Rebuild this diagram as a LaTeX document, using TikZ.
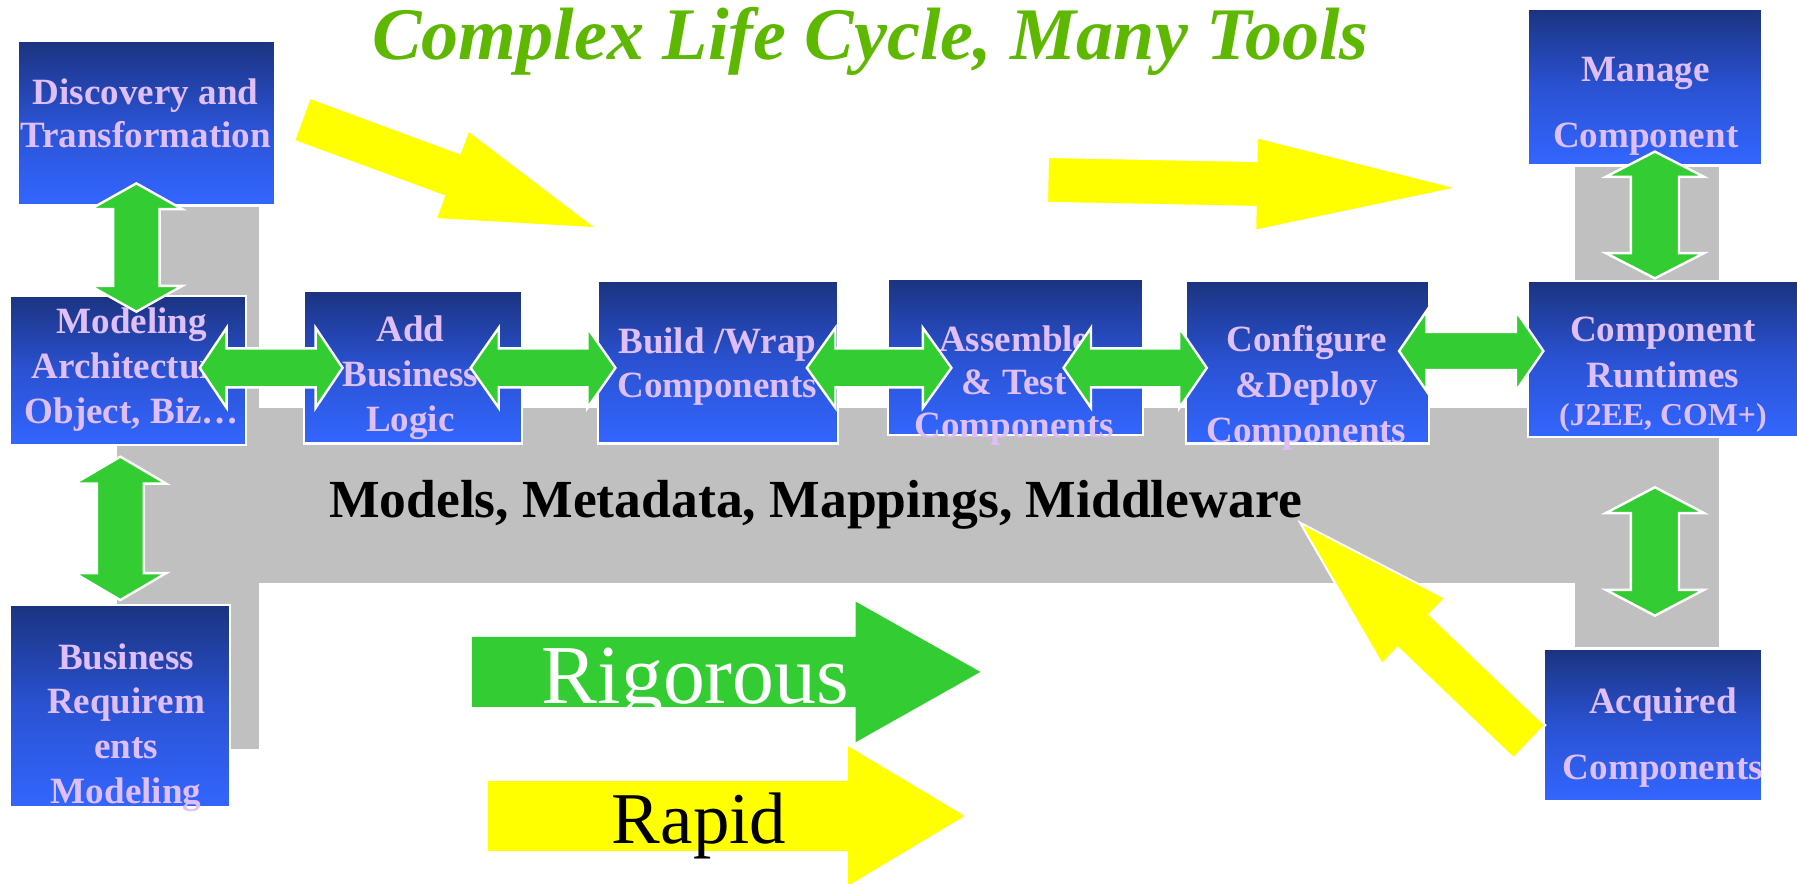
\documentclass[tikz,border=0pt]{standalone}
\usepackage{fontspec}
\setmainfont{Liberation Serif}
\usetikzlibrary{calc,fit}

\definecolor{navy}{RGB}{27,51,128}
\definecolor{midblue}{RGB}{42,82,210}
\definecolor{brightblue}{RGB}{51,102,255}
\definecolor{lavender}{RGB}{224,190,248}
\definecolor{arrowgreen}{RGB}{51,204,51}
\definecolor{arrowyellow}{RGB}{255,255,0}
\definecolor{panelgray}{RGB}{192,192,192}
\definecolor{titlegreen}{RGB}{94,184,0}

\tikzset{
  stage/.style={draw=white, line width=0.5pt, top color=navy, bottom color=brightblue,
    middle color=midblue, inner sep=0pt, rectangle},
  boxtext/.style={text=lavender, font=\fontsize{9.2}{11}\selectfont\bfseries, inner sep=0pt},
  linkarrow/.style={fill=arrowgreen, draw=white, line width=0.6pt, line join=miter},
  flowarrow/.style={fill=arrowyellow, draw=white, line width=0.5pt, line join=miter},
  bigarrow/.style={draw=none},
}

% stage box spanning two corners
\newcommand\stagebox[3]{\node[stage, fit={#2 #3}] (#1) {};}

% stacked label lines: name, x, first baseline, line spacing, lines
\newcommand\stagetext[5]{%
  \foreach \ltxt [count=\k from 0] in {#5} {
    \node[boxtext, anchor=base] (#1-\k) at (#2, {#3+\k*#4}) {\ltxt};
  }%
}

% double-headed block arrow between two tips:
% tip A, tip B, head length, head half width, shaft half width, style
\newcommand\dblblock[6]{%
  \coordinate (hA) at ($(#1)!#3*0.01cm!(#2)$);
  \coordinate (hB) at ($(#2)!#3*0.01cm!(#1)$);
  \draw[#6] (#1) -- ($(hA)!#4*0.01cm!90:(#2)$) -- ($(hA)!#5*0.01cm!90:(#2)$)
    -- ($(hB)!#5*0.01cm!-90:(#1)$) -- ($(hB)!#4*0.01cm!-90:(#1)$) -- (#2)
    -- ($(hB)!#4*0.01cm!90:(#1)$) -- ($(hB)!#5*0.01cm!90:(#1)$)
    -- ($(hA)!#5*0.01cm!-90:(#2)$) -- ($(hA)!#4*0.01cm!-90:(#2)$) -- cycle;
}

% single block arrow: tail, tip, head length, head half width, shaft half width, style
\newcommand\oneblock[6]{%
  \coordinate (hT) at ($(#2)!#3*0.01cm!(#1)$);
  \draw[#6] ($(#1)!#5*0.01cm!90:(#2)$) -- ($(hT)!#5*0.01cm!90:(#2)$)
    -- ($(hT)!#4*0.01cm!90:(#2)$) -- (#2) -- ($(hT)!#4*0.01cm!-90:(#2)$)
    -- ($(hT)!#5*0.01cm!-90:(#2)$) -- ($(#1)!#5*0.01cm!-90:(#2)$) -- cycle;
}

\begin{document}
\begin{tikzpicture}[x=0.01cm, y=-0.01cm]
\useasboundingbox (0,0) rectangle (1568,771);
\clip (0,0) rectangle (1568,771);

% shared repository panel
\fill[panelgray] (102,180.5) rectangle (226,654);
\fill[panelgray] (102,356) rectangle (1500,509);
\fill[panelgray] (1374,145.5) rectangle (1500,564.5);

% stage boxes
\stagebox{disc}{(16,36)}{(240,179)}
\stagebox{model}{(9,258)}{(215,388)}
\stagebox{addlogic}{(265,254)}{(455.5,387)}
\stagebox{build}{(521.6,245)}{(731,387)}
\stagebox{assem}{(775,243.5)}{(997,380)}
\stagebox{config}{(1035,245)}{(1246.5,387)}
\stagebox{runtime}{(1333,245)}{(1572,381)}
\stagebox{manage}{(1333,8)}{(1537.5,143.7)}
\stagebox{acquired}{(1347.3,566.3)}{(1537.5,698.7)}
\stagebox{bizreq}{(8.7,528)}{(200.7,704)}

% stage labels
\stagetext{disct}{127}{90.8}{38.1}{Discovery and, Transformation}
\stagetext{modelt}{115}{290.9}{39.2}{Modeling, Architecture, {Object, Biz…}}
\stagetext{addt}{358}{298.1}{39.3}{Add, Business, Logic}
\stagetext{buildt}{626}{308.3}{38.7}{Build /Wrap, Components}
\stagetext{assemt}{885}{306.9}{37.5}{Assemble, \& Test, Components}
\stagetext{configt}{1140}{306.9}{39.7}{Configure, \&Deploy, Components}
\stagetext{runtimet}{1451}{298.1}{40.2}{Component, Runtimes}
\node[boxtext, anchor=base, font=\fontsize{7.9}{9.5}\selectfont\bfseries] (runtimes-sub) at (1451,371.7) {(J2EE, COM+)};
\stagetext{managet}{1436}{71.3}{57.6}{Manage, Component}
\stagetext{acquiredt}{1451}{622.5}{58.1}{Acquired, Components}
\stagetext{bizreqt}{110}{584}{39}{Business, Requirem, ents, Modeling}

% tips of the two-way links
\coordinate (v1a) at (119,160);      \coordinate (v1b) at (119,272);
\coordinate (v2a) at (105,398.5);    \coordinate (v2b) at (105,523.6);
\coordinate (v3a) at (1444,132.3);   \coordinate (v3b) at (1444,242.9);
\coordinate (v4a) at (1444,425.2);   \coordinate (v4b) at (1444,537.2);
\coordinate (h1a) at (174.3,321);    \coordinate (h1b) at (298.9,321);
\coordinate (h2a) at (410.7,321);    \coordinate (h2b) at (537,321);
\coordinate (h3a) at (704,321);      \coordinate (h3b) at (830.2,321);
\coordinate (h4a) at (928,321);      \coordinate (h4b) at (1053,321);
\coordinate (h5a) at (1220.8,306.3); \coordinate (h5b) at (1346.7,306.3);

% two-way links between stages
\dblblock{v1a}{v1b}{22.5}{40}{20.3}{linkarrow}
\dblblock{v2a}{v2b}{23.5}{40}{20.5}{linkarrow}
\dblblock{v3a}{v3b}{22}{42.8}{21}{linkarrow}
\dblblock{v4a}{v4b}{22.5}{42.8}{21}{linkarrow}
\dblblock{h1a}{h1b}{23.5}{35}{17}{linkarrow}
\dblblock{h2a}{h2b}{24.5}{35}{17}{linkarrow}
\dblblock{h3a}{h3b}{25}{35}{17}{linkarrow}
\dblblock{h4a}{h4b}{24}{35}{17}{linkarrow}
\dblblock{h5a}{h5b}{24}{35}{16.6}{linkarrow}

% yellow flow arrows
\coordinate (y1t) at (263.5,104.1);  \coordinate (y1h) at (521,199.2);
\coordinate (y2t) at (914,157);      \coordinate (y2h) at (1272,164);
\coordinate (y3t) at (1334.5,647.2); \coordinate (y3h) at (1134.4,456.1);
\oneblock{y1t}{y1h}{135}{41.3}{20}{flowarrow}
\oneblock{y2t}{y2h}{176}{40.7}{20}{flowarrow}
\oneblock{y3t}{y3h}{137}{40}{20}{flowarrow}

% panel caption
\node[font=\fontsize{13.3}{16}\selectfont\bfseries, anchor=base, inner sep=0pt] (panel) at (711.5,452)
  {Models, Metadata, Mappings, Middleware};

% legend arrows
\coordinate (rgt) at (411.8,586.3); \coordinate (rgh) at (855.5,586.3);
\coordinate (rpt) at (425.9,712);   \coordinate (rph) at (841.8,712);
\oneblock{rgt}{rgh}{109}{61.4}{30.5}{bigarrow, fill=arrowgreen}
\oneblock{rpt}{rph}{102}{61}{30.5}{bigarrow, fill=arrowyellow}
\node[font=\fontsize{20.8}{25}\selectfont, text=white, anchor=base, inner sep=0pt] (rigorous) at (607,614) {Rigorous};
\node[font=\fontsize{18.1}{22}\selectfont, anchor=base, inner sep=0pt] (rapid) at (610,736) {Rapid};

% title
\node[font=\fontsize{18.4}{22}\selectfont\bfseries\itshape, text=titlegreen, anchor=base, inner sep=0pt] (title)
  at (759.5,52) {Complex Life Cycle, Many Tools};
\end{tikzpicture}
\end{document}
